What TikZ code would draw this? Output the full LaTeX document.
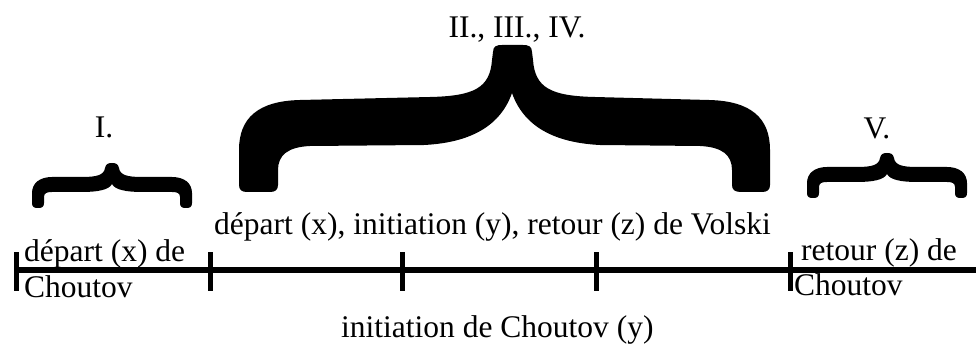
\documentclass[tikz,border=0pt]{standalone}
\usepackage{fontspec}
\setmainfont{Liberation Serif}
\tikzset{
  lbl/.style={inner sep=0pt, font=\fontsize{31.5}{36}\selectfont, text=black},
  axisline/.style={line width=6pt, black},
  tickmark/.style={line width=5pt, black},
  bracefill/.style={fill=black, draw=none}
}
\newcommand\smallbracepath{%
  (-80,40) -- (-80,30) .. controls (-80,20) and (-72,14) .. (-60,14) -- (-30,14)
  .. controls (-15,14) and (-8,12) .. (-7,5) .. controls (-6,1) and (-4,0) .. (0,0)
  .. controls (4,0) and (6,1) .. (7,5) .. controls (8,12) and (15,14) .. (30,14)
  -- (60,14) .. controls (72,14) and (80,20) .. (80,30) -- (80,40)
  .. controls (80,44) and (78,45) .. (74,45) .. controls (70,45) and (68,44) .. (68,40)
  -- (68,34) .. controls (68,30) and (65,29) .. (60,29) -- (30,29)
  .. controls (15,29) and (3,27) .. (0,21) .. controls (-3,27) and (-15,29) .. (-30,29)
  -- (-60,29) .. controls (-65,29) and (-68,30) .. (-68,34) -- (-68,40)
  .. controls (-68,44) and (-70,45) .. (-74,45) .. controls (-78,45) and (-80,44) .. (-80,40) -- cycle}
\begin{document}
\begin{tikzpicture}[x=1pt,y=-1pt]
\useasboundingbox (0,0) rectangle (976,347);
% axis
\coordinate (t0) at (16,270);
\coordinate (t1) at (210,270);
\coordinate (t2) at (402,270);
\coordinate (t3) at (596,270);
\coordinate (t4) at (790,270);
\coordinate (tend) at (976,270);
\draw[axisline] (t0) -- (tend);
\foreach \t in {t0,t1,t2,t3,t4}{
  \draw[tickmark] ([yshift=18pt]\t) -- ([yshift=-21pt]\t);
}
% big brace
\fill[bracefill] (239,185) -- (239,150)
  .. controls (239,118) and (258,101) .. (300,100) -- (430,97)
  .. controls (474,96) and (490,88) .. (492,60) -- (493,52)
  .. controls (493,46) and (497,45) .. (502,45) -- (523,45)
  .. controls (528,45) and (532,46) .. (532,52) -- (533,60)
  .. controls (535,88) and (551,96) .. (595,97) -- (709,100)
  .. controls (751,101) and (770,118) .. (770,150) -- (770,185)
  .. controls (770,190) and (767,192) .. (762,192) -- (741,192)
  .. controls (735,192) and (732,190) .. (732,185) -- (732,170)
  .. controls (732,155) and (722,147) .. (700,146) -- (600,145)
  .. controls (560,143) and (525,130) .. (512,93)
  .. controls (499,130) and (464,143) .. (424,145) -- (310,146)
  .. controls (288,147) and (278,155) .. (278,170) -- (278,185)
  .. controls (278,190) and (275,192) .. (270,192) -- (247,192)
  .. controls (242,192) and (239,190) .. (239,185) -- cycle;
% small braces
\begin{scope}[shift={(112,163)}]
  \fill[bracefill] \smallbracepath;
\end{scope}
\begin{scope}[shift={(887,153)}]
  \fill[bracefill] \smallbracepath;
\end{scope}
% labels
\node[lbl, anchor=base] (n234) at (517,38) {II., III., IV.};
\node[lbl, anchor=base] (n1) at (104,138) {I.};
\node[lbl, anchor=base] (n5) at (877,139) {V.};
\node[lbl, anchor=base west] (volski) at (214,235) {départ (x), initiation (y), retour (z) de Volski};
\node[lbl, anchor=base west] (dep) at (24,261) {départ (x) de};
\node[lbl, anchor=base west] (cho1) at (24,297) {Choutov};
\node[lbl, anchor=base west] (ret) at (801,260) {retour (z) de};
\node[lbl, anchor=base west] (cho2) at (794,295) {Choutov};
\node[lbl, anchor=base west] (init) at (341,337) {initiation de Choutov (y)};
\end{tikzpicture}
\end{document}
